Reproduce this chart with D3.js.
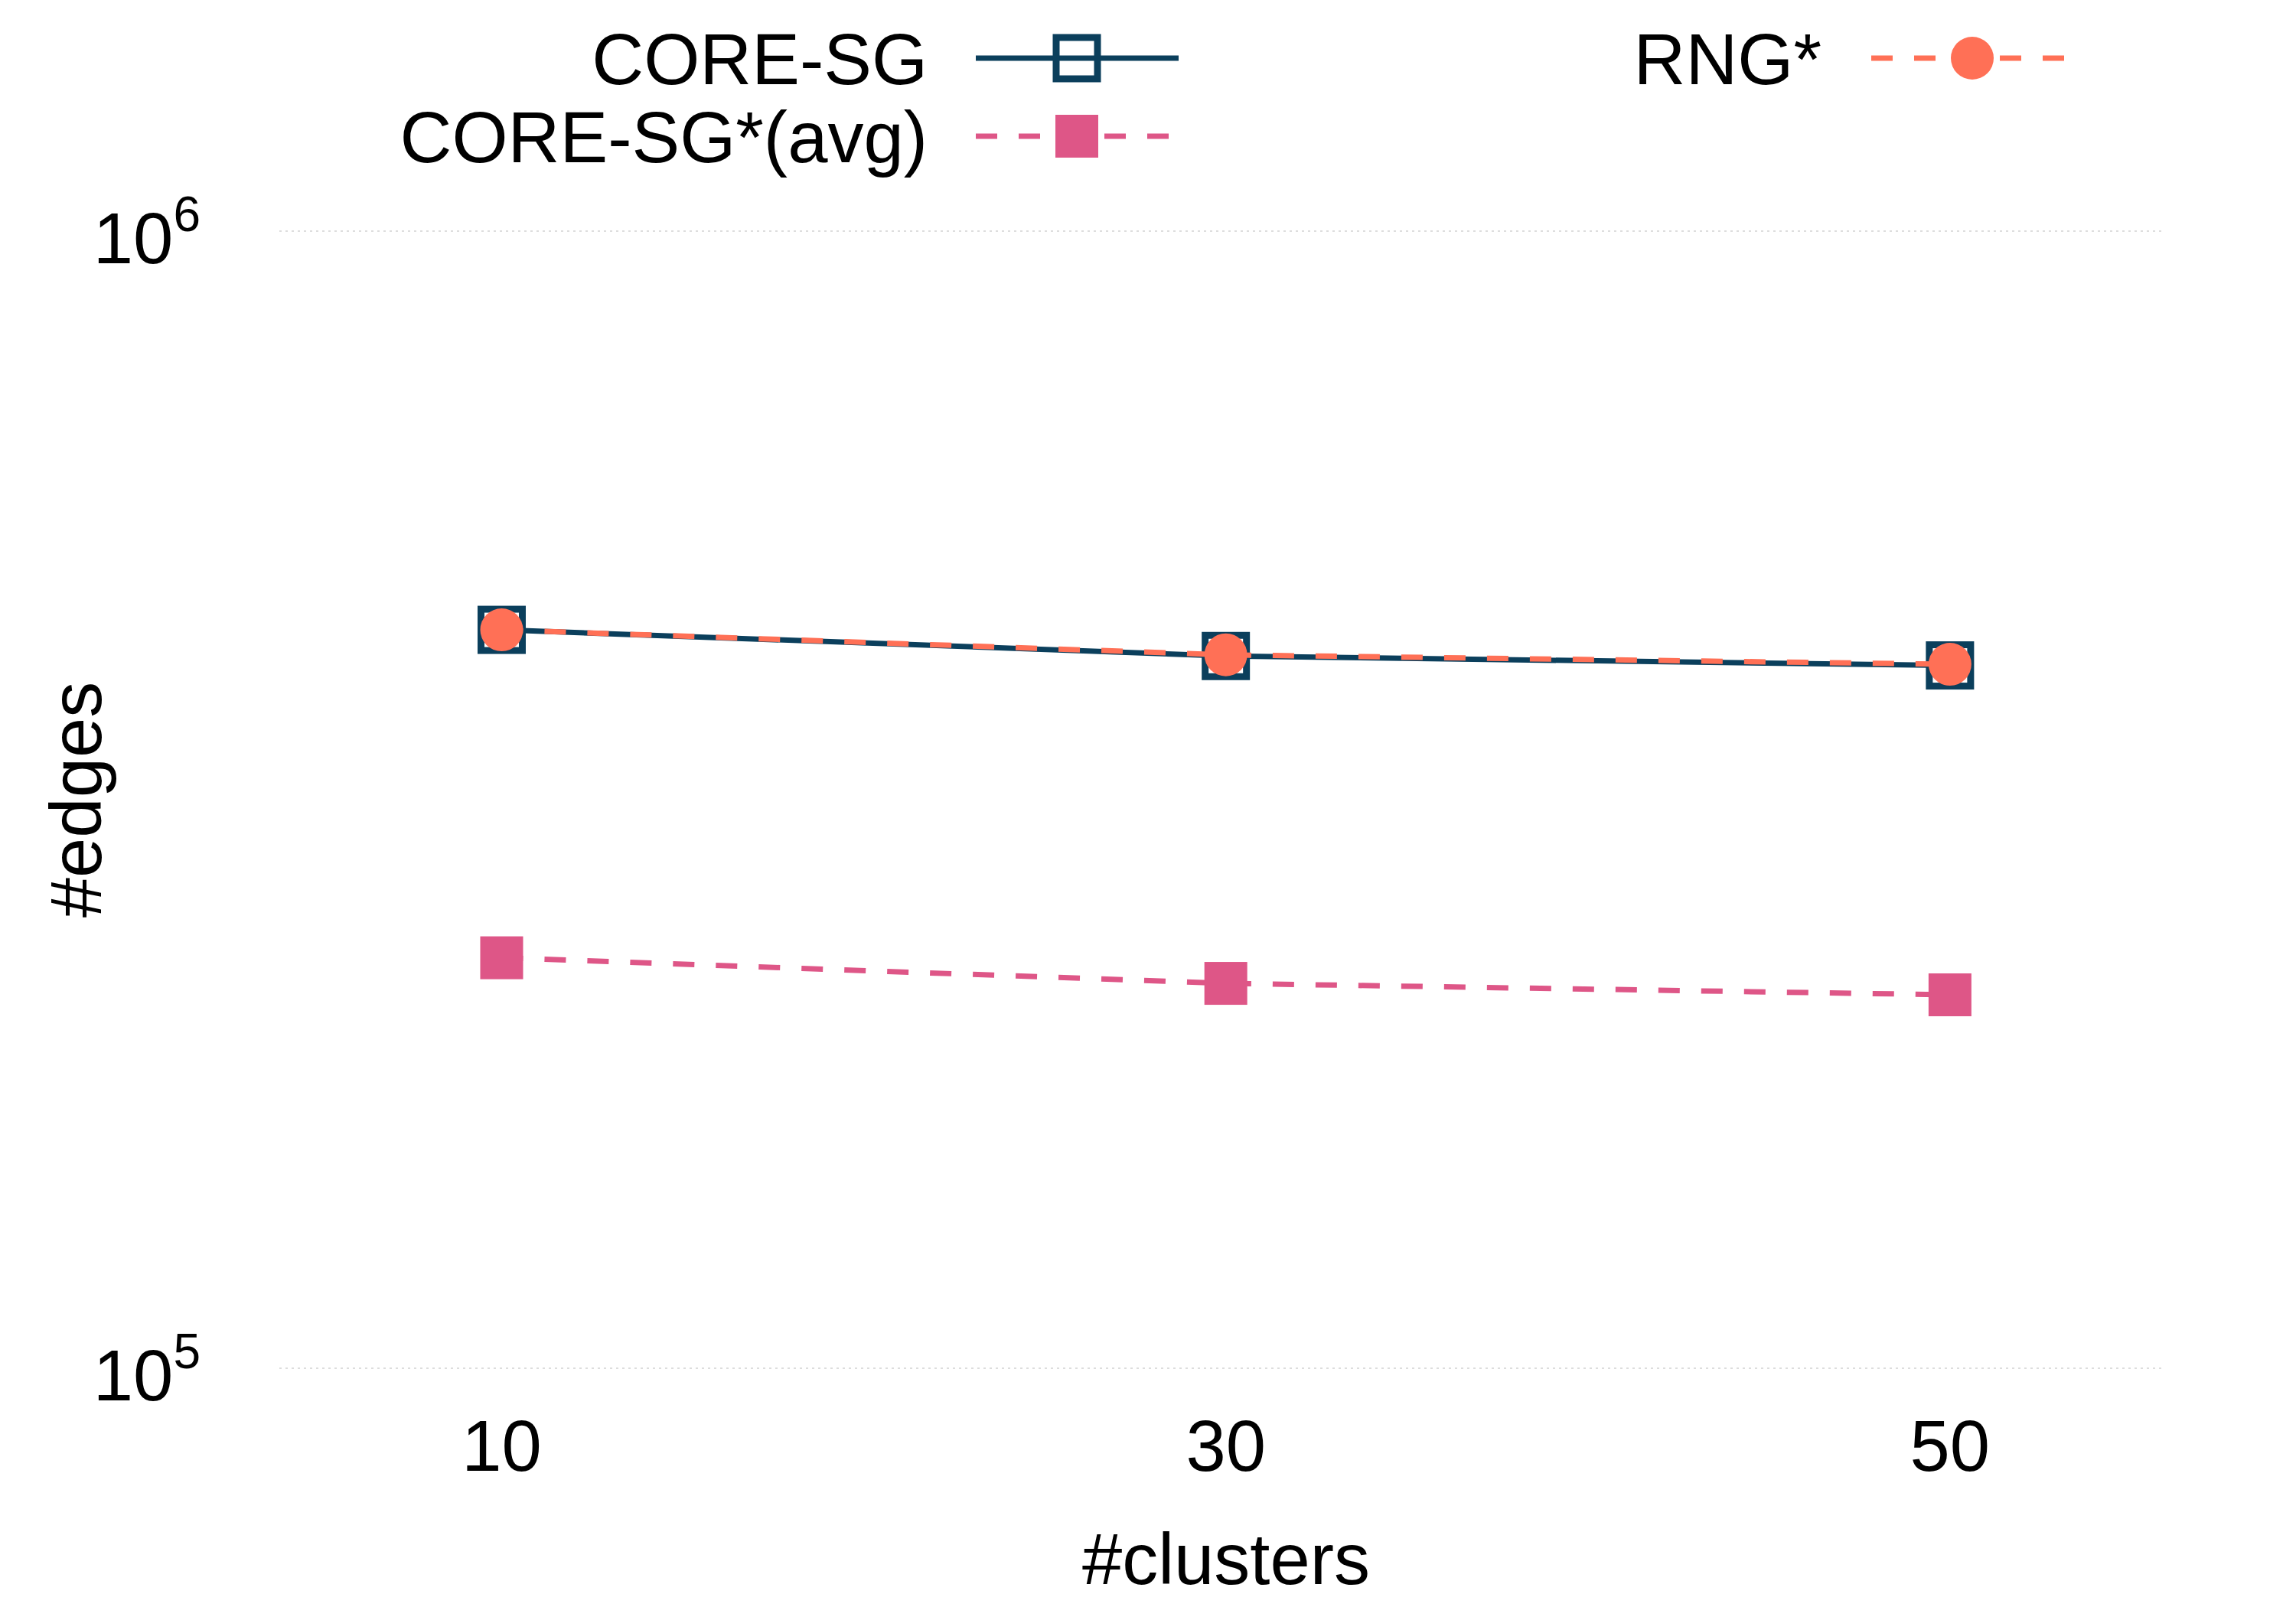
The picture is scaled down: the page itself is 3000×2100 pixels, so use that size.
<!DOCTYPE html>
<html><head><meta charset="utf-8">
<script src="https://cdn.jsdelivr.net/npm/d3@7"></script>
<style>body{margin:0;background:#fff}text{font-family:"Liberation Sans",Arial,sans-serif}</style>
</head><body>
<svg id="chart" width="3000" height="2100"></svg>
<script>
var clusters = [10, 30, 50];
var coreSG = [446000, 423000, 415000];
var coreSGavg = [229600, 218000, 213000];
var rng = [446000, 424000, 416000];
var yTicks = [1e5, 1e6];

var svg = d3.select("#chart");
var x = d3.scaleLinear().domain([3.86, 55.9]).range([365, 2827]);
var y = d3.scaleLog().domain([1e5, 1e6]).range([1788, 302]);

// grid
svg.selectAll(".grid").data(yTicks).enter().append("line")
  .attr("x1", 365).attr("x2", 2827)
  .attr("y1", d => y(d)).attr("y2", d => y(d))
  .attr("stroke", "#ddd").attr("stroke-width", 2).attr("stroke-dasharray", "3,5");

// y tick labels 10^n
yTicks.forEach(function (t) {
  var tx = svg.append("text").attr("x", 262).attr("y", y(t) + 42)
    .attr("text-anchor", "end").attr("font-size", 94);
  tx.append("tspan").text("10");
  tx.append("tspan").attr("dy", -42).attr("font-size", 64).text(Math.round(Math.log10(t)));
});

// x tick labels
svg.selectAll(".xt").data(clusters).enter().append("text")
  .attr("x", d => x(d)).attr("y", 1922).attr("text-anchor", "middle")
  .attr("font-size", 94).text(d => d);

svg.append("text").attr("x", 1602).attr("y", 2070).attr("text-anchor", "middle")
  .attr("font-size", 94).text("#clusters");
svg.append("text").attr("transform", "translate(132,1045) rotate(-90)")
  .attr("text-anchor", "middle").attr("font-size", 94).text("#edges");

var line = d3.line().x((d, i) => x(clusters[i])).y(d => y(d));

function drawSeries(vals, color, dash, shape) {
  svg.append("path").datum(vals).attr("d", line).attr("fill", "none")
    .attr("stroke", color).attr("stroke-width", 7).attr("stroke-dasharray", dash);
  vals.forEach(function (v, i) { drawMarker(x(clusters[i]), y(v), color, shape); });
}
function drawMarker(cx, cy, color, shape) {
  if (shape === "open") {
    svg.append("rect").attr("x", cx - 27).attr("y", cy - 27).attr("width", 54).attr("height", 54)
      .attr("fill", "none").attr("stroke", color).attr("stroke-width", 9);
  } else if (shape === "square") {
    svg.append("rect").attr("x", cx - 28).attr("y", cy - 28).attr("width", 56).attr("height", 56)
      .attr("fill", color);
  } else {
    svg.append("circle").attr("cx", cx).attr("cy", cy).attr("r", 28).attr("fill", color);
  }
}

drawSeries(coreSG, "#0b3f5c", null, "open");
drawSeries(coreSGavg, "#de5687", "28,28", "square");
drawSeries(rng, "#ff7056", "28,28", "circle");

// legend
var legend = [
  {label: "CORE-SG", color: "#0b3f5c", dash: null, shape: "open", tx: 1212, lx: 1275, y: 76},
  {label: "CORE-SG*(avg)", color: "#de5687", dash: "28,28", shape: "square", tx: 1212, lx: 1275, y: 178},
  {label: "RNG*", color: "#ff7056", dash: "28,28", shape: "circle", tx: 2380, lx: 2445, y: 76}
];
legend.forEach(function (l) {
  svg.append("text").attr("x", l.tx).attr("y", l.y + 34).attr("text-anchor", "end")
    .attr("font-size", 94).text(l.label);
  svg.append("line").attr("x1", l.lx).attr("x2", l.lx + 265).attr("y1", l.y).attr("y2", l.y)
    .attr("stroke", l.color).attr("stroke-width", 7).attr("stroke-dasharray", l.dash);
  drawMarker(l.lx + 132, l.y, l.color, l.shape);
});
</script>
</body></html>
